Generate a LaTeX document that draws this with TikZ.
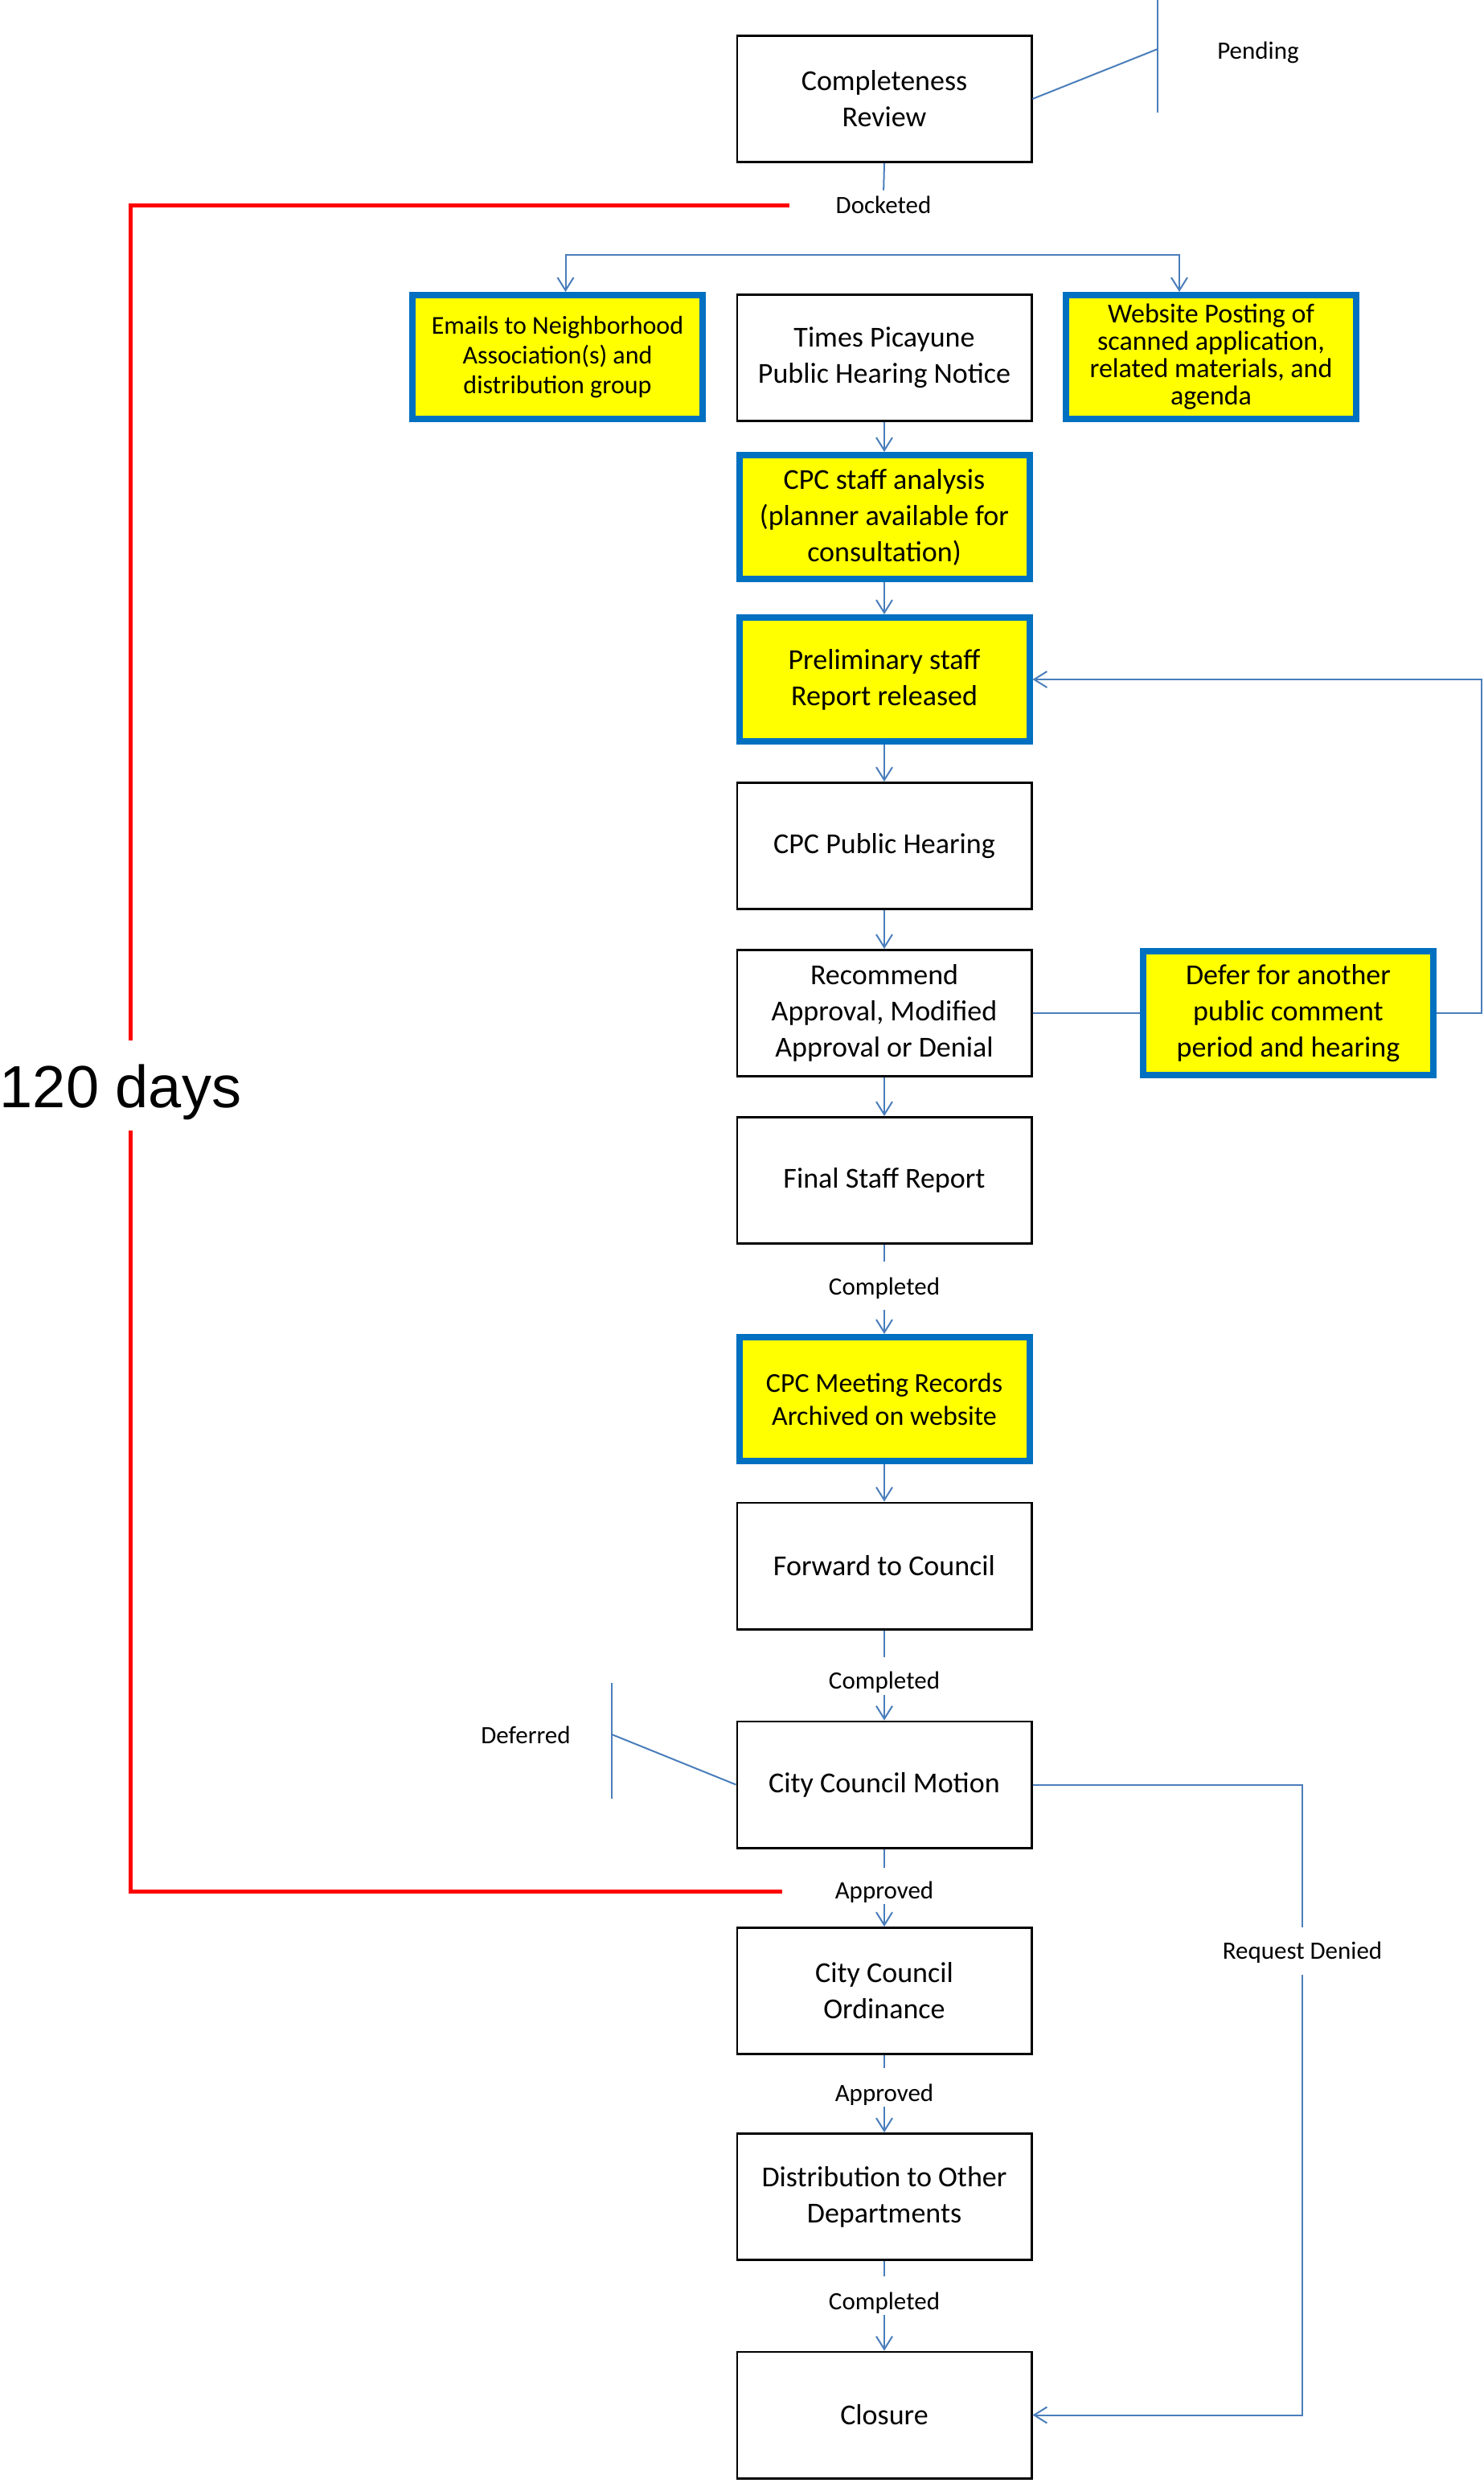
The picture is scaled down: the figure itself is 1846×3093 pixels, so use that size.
\documentclass[tikz,border=0pt]{standalone}
\usepackage{fontspec}
\setmainfont{Carlito}
\newfontfamily\arialfont{Liberation Sans}
\usetikzlibrary{arrows.meta}
\definecolor{connblue}{RGB}{74,126,187}
\definecolor{edgeblue}{RGB}{0,112,192}
\definecolor{hiyellow}{RGB}{255,255,0}
\begin{document}
\begin{tikzpicture}[x=0.5pt,y=-0.5pt,
  >={Straight Barb[length=8pt,width=10pt]},
  plainbox/.style={draw=black, line width=1.3pt, fill=white,
    minimum width=183.2pt, minimum height=78.7pt, align=center,
    inner sep=2pt, font=\fontsize{18}{22.5}\selectfont},
  hibox/.style={draw=edgeblue, line width=4pt, fill=hiyellow,
    minimum width=180.5pt, minimum height=77pt, align=center,
    inner sep=2pt, font=\fontsize{18}{22.5}\selectfont},
  conn/.style={draw=connblue, line width=1pt},
  lbl/.style={inner sep=0pt, text height=11.5pt, text depth=3pt,
    font=\fontsize{15.5}{18}\selectfont},
  span/.style={draw=red, line width=2.5pt}
]
\useasboundingbox (0,0) rectangle (1846,3093);

% main column
\node[plainbox] (completeness) at (1100,123) {Completeness\\Review};
\node[plainbox] (times) at (1100,445) {Times Picayune\\Public Hearing Notice};
\node[hibox, font=\fontsize{16}{18.5}\selectfont] (emails) at (693.5,444)
  {Emails to Neighborhood\\Association(s) and\\distribution group};
\node[hibox, font=\fontsize{17}{17}\selectfont] (website) at (1506.5,444)
  {Website Posting of\\scanned application,\\related materials, and\\agenda};
\node[hibox] (analysis) at (1100,643) {CPC staff analysis\\(planner available for\\consultation)};
\node[hibox] (prelim) at (1100,845) {Preliminary staff\\Report released};
\node[plainbox] (hearing) at (1100,1052) {CPC Public Hearing};
\node[plainbox] (recommend) at (1100,1260) {Recommend\\Approval, Modified\\Approval or Denial};
\node[hibox] (defer) at (1602.5,1260) {Defer for another\\public comment\\period and hearing};
\node[plainbox] (final) at (1100,1468) {Final Staff Report};
\node[hibox, font=\fontsize{17}{20.5}\selectfont] (meeting) at (1100,1740)
  {CPC Meeting Records\\Archived on website};
\node[plainbox] (forward) at (1100,1947.5) {Forward to Council};
\node[plainbox] (motion) at (1100,2219.5) {City Council Motion};
\node[plainbox] (ordinance) at (1100,2476) {City Council\\Ordinance};
\node[plainbox] (distribution) at (1100,2732) {Distribution to Other\\Departments};
\node[plainbox] (closure) at (1100,3003.5) {Closure};

% connector labels
\node[lbl] (docketed) at (1099,257) {Docketed};
\node[lbl] (pending) at (1565,65) {Pending};
\node[lbl] (completed1) at (1100,1602) {Completed};
\node[lbl] (completed2) at (1100,2092) {Completed};
\node[lbl] (approved1) at (1100,2353) {Approved};
\node[lbl] (approved2) at (1100,2605) {Approved};
\node[lbl] (completed3) at (1100,2864) {Completed};
\node[lbl] (denied) at (1620,2428) {Request Denied};
\node[lbl] (deferred) at (654,2160) {Deferred};
\node[font=\arialfont\fontsize{37}{40}\selectfont, inner sep=0pt,
  minimum height=55.5pt] (days) at (150,1358) {120 days};

% free ends
\coordinate (pendtop) at (1440,0);
\coordinate (pendknee) at (1440,61);
\coordinate (pendbot) at (1440,140);
\coordinate (deftop) at (761,2093);
\coordinate (defknee) at (761,2157);
\coordinate (defbot) at (761,2237);
\coordinate (spantop) at (982,256);
\coordinate (spanbot) at (973,2352);

% pending callout
\draw[conn] (pendtop) -- (pendbot);
\draw[conn] (completeness.east) -- (pendknee);

% docketed
\draw[conn, shorten >=2.75pt] (completeness.south) -- (docketed.north);
\draw[conn,<->] ([xshift=5pt]emails.north) -- ++(0,-46) -| ([xshift=-19.75pt]website.north);

% main flow
\draw[conn,->] (times.south) -- (analysis.north);
\draw[conn,->] (analysis.south) -- (prelim.north);
\draw[conn,->] (prelim.south) -- (hearing.north);
\draw[conn,->] (hearing.south) -- (recommend.north);
\draw[conn,->] (recommend.south) -- (final.north);
\draw[conn] (recommend.east) -- (defer.west);
\draw[conn,->] (defer.east) -- ++(56,0) |- (prelim.east);

\draw[conn, shorten >=9.25pt] (final.south) -- (completed1.north);
\draw[conn,->, shorten <=6.25pt] (completed1.south) -- (meeting.north);
\draw[conn,->] (meeting.south) -- (forward.north);
\draw[conn, shorten >=8.25pt] (forward.south) -- (completed2.north);
\draw[conn,->, shorten <=0.75pt] (completed2.south) -- (motion.north);
\draw[conn, shorten >=7.75pt] (motion.south) -- (approved1.north);
\draw[conn,->] (approved1.south) -- (ordinance.north);
\draw[conn, shorten >=9.25pt] (ordinance.south) -- (approved2.north);
\draw[conn,->] (approved2.south) -- (distribution.north);
\draw[conn, shorten >=9pt] (distribution.south) -- (completed3.north);
\draw[conn,->] (completed3.south) -- (closure.north);

% request denied branch
\draw[conn, shorten >=8.25pt] (motion.east) -| (denied.north);
\draw[conn,->, shorten <=6.75pt] (denied.south) |- (closure.east);

% deferred callout
\draw[conn] (deftop) -- (defbot);
\draw[conn] (motion.west) -- (defknee);

% 120 day span
\draw[span] (spantop) -| ([xshift=6pt,yshift=4pt]days.north);
\draw[span] ([xshift=6pt,yshift=4pt]days.south) |- (spanbot);
\end{tikzpicture}
\end{document}
